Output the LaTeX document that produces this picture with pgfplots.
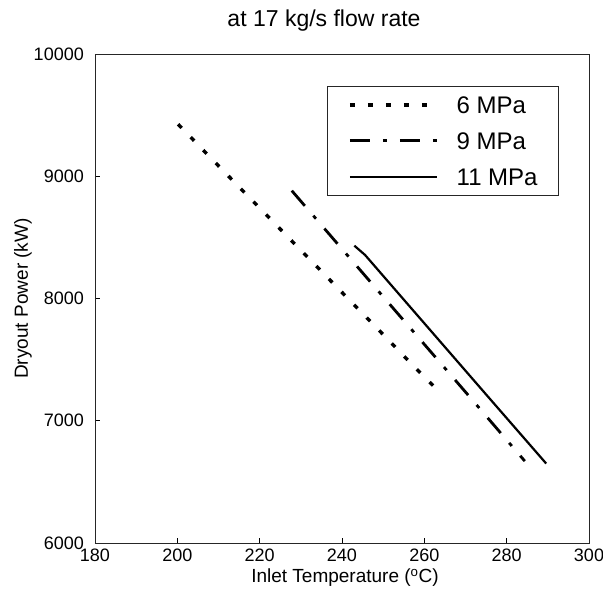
\documentclass[border=0pt]{standalone}
\usepackage{fontspec}
\setmainfont{Liberation Sans}
\usepackage{pgfplots}
\pgfplotsset{compat=1.18}
\begin{document}
\begin{tikzpicture}
\begin{axis}[
  scale only axis, width=494pt, height=489pt,
  xmin=180, xmax=300, ymin=6000, ymax=10000,
  xtick={180,200,...,300}, ytick={6000,7000,...,10000},
  scaled y ticks=false, scaled x ticks=false,
  /pgf/number format/assume math mode=true,
  /pgf/number format/1000 sep={},
  /pgf/number format/fixed,
  tick align=inside, xtick pos=bottom, ytick pos=left,
  major tick length=5pt,
  axis line style={black!85, line width=0.8pt},
  every tick/.style={black, line width=0.8pt},
  ticklabel style={font=\fontsize{18}{18}\selectfont},
  xticklabel style={anchor=base, inner sep=0pt, yshift=-19pt},
  yticklabel style={anchor=east, inner sep=0pt, xshift=-11pt},
  xlabel={Inlet Temperature (\textsuperscript{o}C)},
  xlabel style={at={(axis description cs:0.506,-0.0818)}, anchor=base, inner sep=0pt, font=\fontsize{19}{19}\selectfont},
  ylabel={Dryout Power (kW)},
  ylabel style={at={(axis description cs:-0.1457,0.5)}, anchor=center, inner sep=0pt, font=\fontsize{19}{19}\selectfont},
  title={at 17 kg/s flow rate},
  title style={at={(0.4636,1.0430)}, anchor=base, inner sep=0pt, font=\fontsize{23}{23}\selectfont},
  legend style={at={(0.9393,0.9346)}, anchor=north east, draw=black!85, line width=0.8pt,
    font=\fontsize{24}{24}\selectfont, inner xsep=21pt, inner ysep=0.5pt,
    row sep=0pt, column sep=18pt,
    nodes={inner sep=0pt, text height=26.6pt, text depth=9.4pt}},
  legend cell align=left,
  legend image code/.code={\path (0pt,6pt) rectangle (0pt,6pt);\draw[#1] (0pt,0pt) -- (87pt,0pt);},
]
\addplot[black, line width=3.4pt, line cap=butt, dash pattern=on 5pt off 13pt] coordinates {
  (200.2,9425) (210,9085) (220,8740) (230,8395) (240,8050) (250,7705) (257.3,7450) (264.3,7215)
};
\addlegendentry{6 MPa}
\addplot[black, line width=2.8pt, line cap=butt, dash pattern=on 20pt off 13pt on 4pt off 13pt] coordinates {
  (227.8,8882) (240,8405) (250,8015) (260,7625) (270,7235) (284.4,6670)
};
\addlegendentry{9 MPa}
\addplot[black, line width=2.2pt] coordinates {
  (243.0,8432) (245.6,8356) (255,7991) (265,7603) (275,7215) (289.6,6650)
};
\addlegendentry{11 MPa}
\end{axis}
\pgfresetboundingbox
\path (current axis.south west) ++(-95pt,-53pt) rectangle ++(603pt,596pt);
\end{tikzpicture}
\end{document}
